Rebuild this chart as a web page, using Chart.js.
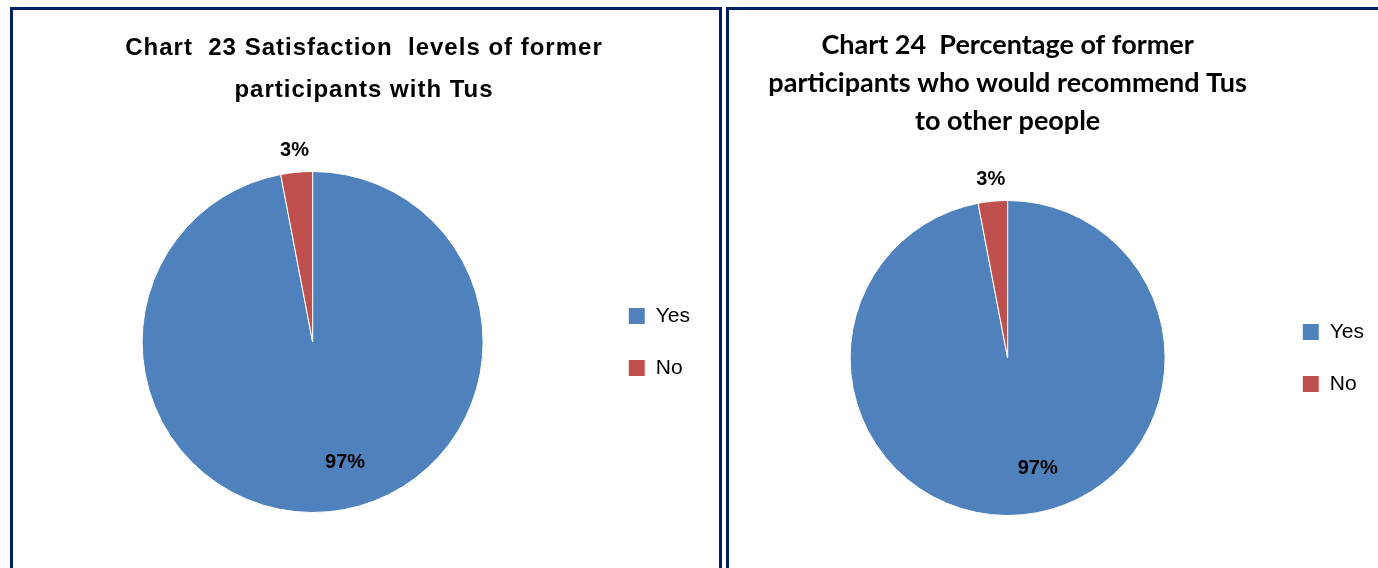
<!DOCTYPE html>
<html>
<head>
<meta charset="utf-8">
<script src="https://cdn.jsdelivr.net/npm/chart.js@4"></script>
<style>
  html, body { margin: 0; padding: 0; background: #fff; overflow: hidden; }
  body { width: 1378px; height: 568px; position: relative; }
  .panel {
    position: absolute;
    top: 7px;
    height: 600px;
    border: 3px solid #002060;
    border-bottom: none;
    box-sizing: border-box;
  }
  .chart-box { position: absolute; }
</style>
</head>
<body>
<div class="panel" style="left:10px; width:712px;"></div>
<div class="panel" style="left:726px; width:700px;"></div>

<div class="chart-box" style="left:13px; top:10px; width:705px; height:558px;">
  <canvas id="chart23"></canvas>
</div>
<div class="chart-box" style="left:730px; top:10px; width:648px; height:558px;">
  <canvas id="chart24"></canvas>
</div>

<script>
const answerLabels = ['Yes', 'No'];
const chart23Values = [97, 3];
const chart24Values = [97, 3];
const sliceColors = ['#4F81BD', '#C0504D'];

const chart23Title = ['Chart  23 Satisfaction  levels of former', 'participants with Tus'];
const chart24Title = ['Chart 24  Percentage of former', 'participants who would recommend Tus', 'to other people'];

// percent labels: big slices get it inside, small ones just outside the rim
const pieLabels = {
  id: 'pieLabels',
  afterDatasetsDraw(chart) {
    const ctx = chart.ctx;
    const meta = chart.getDatasetMeta(0);
    const values = chart.data.datasets[0].data;
    const total = values.reduce((a, b) => a + b, 0);
    ctx.save();
    ctx.font = 'bold 20px "Liberation Sans", Arial, sans-serif';
    ctx.fillStyle = '#000';
    ctx.textAlign = 'center';
    ctx.textBaseline = 'middle';
    meta.data.forEach((arc, i) => {
      const p = arc.getProps(['x', 'y', 'startAngle', 'endAngle', 'outerRadius'], true);
      const mid = (p.startAngle + p.endAngle) / 2;
      const pct = values[i] / total * 100;
      let x, y;
      if (pct < 10) {
        x = p.x + Math.cos(mid) * (p.outerRadius + 22);
        y = p.y + Math.sin(mid) * (p.outerRadius + 22);
      } else {
        // inside label sits a bit clockwise-back from the middle
        const a = mid - 0.17;
        x = p.x + Math.cos(a) * p.outerRadius * 0.73;
        y = p.y + Math.sin(a) * p.outerRadius * 0.73;
      }
      ctx.fillText(Math.round(pct) + '%', x, y);
    });
    ctx.restore();
  }
};

// slightly tracked title lettering, only for the title block
const titleTracking = {
  id: 'titleTracking',
  afterLayout(chart, args, opts) {
    const tb = chart.titleBlock;
    if (!tb || tb._tracked) return;
    const draw = tb.draw.bind(tb);
    tb.draw = function () {
      chart.ctx.letterSpacing = opts.spacing || '0px';
      draw();
      chart.ctx.letterSpacing = '0px';
    };
    tb._tracked = true;
  }
};

function legendOpts() {
  return {
    position: 'right',
    fullSize: false,
    labels: {
      boxWidth: 17,
      boxHeight: 17,
      padding: 31,
      color: '#000',
      font: { family: '"Liberation Sans", Arial, sans-serif', size: 21 }
    }
  };
}

function makePie(id, values, title, titleFont, titlePad, fullSize, padding, tracking) {
  const ctx = document.getElementById(id).getContext('2d');
  return new Chart(ctx, {
    type: 'pie',
    data: {
      labels: answerLabels,
      datasets: [{
        data: values,
        backgroundColor: sliceColors,
        borderColor: '#ffffff',
        borderWidth: 1
      }]
    },
    options: {
      responsive: true,
      maintainAspectRatio: false,
      animation: false,
      layout: { padding: padding },
      plugins: {
        title: {
          display: true,
          text: title,
          color: '#000',
          fullSize: fullSize,
          font: titleFont,
          padding: titlePad
        },
        legend: legendOpts(),
        tooltip: { enabled: false },
        titleTracking: { spacing: tracking }
      }
    },
    plugins: [pieLabels, titleTracking]
  });
}

makePie('chart23', chart23Values, chart23Title,
  { family: '"Liberation Sans", Arial, sans-serif', size: 24, weight: 'bold', lineHeight: '42px' },
  { top: 17, bottom: 60 }, true,
  { left: 15, right: 18, top: 0, bottom: 55 }, '1px');

makePie('chart24', chart24Values, chart24Title,
  { family: 'Lato, "Open Sans", sans-serif', size: 27, weight: 'bold', lineHeight: '38px' },
  { top: 16, bottom: 60 }, false,
  { left: 14, right: 4, top: 0, bottom: 52 }, '0px');
</script>
</body>
</html>
